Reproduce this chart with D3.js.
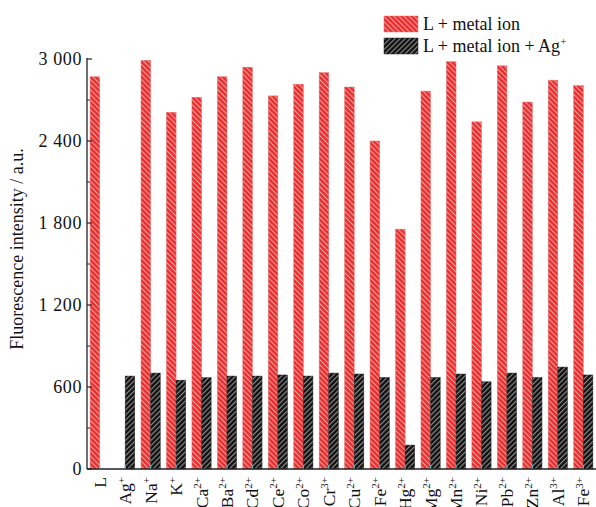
<!DOCTYPE html>
<html><head><meta charset="utf-8">
<script src="https://cdn.jsdelivr.net/npm/d3@7"></script>
<style>body{margin:0;background:#fff}svg{display:block}</style>
</head><body>
<svg id="c" width="596" height="507"></svg>
<script>
const categories = ["L","Ag","Na","K","Ca","Ba","Cd","Ce","Co","Cr","Cu","Fe","Hg","Mg","Mn","Ni","Pb","Zn","Al","Fe"];
const charges = ["","+","+","+","2+","2+","2+","2+","2+","3+","2+","2+","2+","2+","2+","2+","2+","2+","3+","3+"];
const metalIon = [2870,0,2990,2610,2720,2870,2940,2730,2815,2900,2795,2400,1755,2765,2980,2540,2950,2685,2845,2805];
const metalIonAg = [0,680,702,650,668,680,680,688,680,702,695,670,175,670,695,638,702,670,746,688];
const yTicks = [0,600,1200,1800,2400,3000];
const yMinor = [300,900,1500,2100,2700];
const seriesNames = ["L + metal ion","L + metal ion + Ag"];

const svg = d3.select("#c");
const font = "'Liberation Serif','Times New Roman',serif";
const x0 = 87, x1 = 596, yTop = 59, yBot = 469;
const x = d3.scaleBand().domain(d3.range(categories.length)).range([x0, x1]);
const y = d3.scaleLinear().domain([0,3000]).range([yBot, yTop]);
const bw = 9.6;

const defs = svg.append("defs");
function pat(id, bg, fg, dir){
  const p = defs.append("pattern").attr("id",id).attr("patternUnits","userSpaceOnUse")
    .attr("width",3.6).attr("height",3.6)
    .attr("patternTransform","rotate("+(dir>0?45:-45)+")");
  p.append("rect").attr("width",3.6).attr("height",3.6).attr("fill",bg);
  p.append("rect").attr("x",0).attr("width",1.1).attr("height",3.6).attr("fill",fg);
}
pat("pr","#ec2b2b","#f3a0a0",-1);
pat("pb","#111111","#8f8f8f",1);

// bars
svg.append("g").selectAll("rect").data(metalIon).join("rect")
  .attr("display",d=>d>0?null:"none")
  .attr("x",(d,i)=>x(i)+x.bandwidth()/2-bw)
  .attr("y",d=>y(d)).attr("width",bw).attr("height",d=>yBot-y(d))
  .attr("fill","url(#pr)").attr("stroke","#e07070").attr("stroke-width",0.5);
svg.append("g").selectAll("rect").data(metalIonAg).join("rect")
  .attr("display",d=>d>0?null:"none")
  .attr("x",(d,i)=>x(i)+x.bandwidth()/2)
  .attr("y",d=>y(d)).attr("width",bw).attr("height",d=>yBot-y(d))
  .attr("fill","url(#pb)").attr("stroke","#222").attr("stroke-width",0.5);

// y axis
const gy = svg.append("g");
gy.append("line").attr("x1",x0).attr("x2",x0).attr("y1",yTop-1).attr("y2",yBot).attr("stroke","#222").attr("stroke-width",1.3);
gy.selectAll(".mj").data(yTicks).join("line")
  .attr("x1",x0).attr("x2",x0+5).attr("y1",d=>y(d)).attr("y2",d=>y(d)).attr("stroke","#222").attr("stroke-width",1.2);
gy.selectAll(".mn").data(yMinor).join("line").attr("class","mn")
  .attr("x1",x0).attr("x2",x0+3).attr("y1",d=>y(d)).attr("y2",d=>y(d)).attr("stroke","#222").attr("stroke-width",1);
gy.selectAll("text").data(yTicks).join("text")
  .attr("x",x0-5).attr("y",d=>y(d)).attr("dy","0.35em").attr("text-anchor","end")
  .attr("font-family",font).attr("font-size",18).attr("letter-spacing",0.6).attr("fill","#111")
  .text(d=>d3.format(",")(d).replace(","," "));
svg.append("text").attr("transform","translate(23,249) rotate(-90)").attr("text-anchor","middle")
  .attr("font-family",font).attr("font-size",18).attr("fill","#111")
  .text("Fluorescence intensity / a.u.");

// x axis
svg.append("line").attr("x1",x0).attr("x2",x1).attr("y1",yBot).attr("y2",yBot).attr("stroke","#222").attr("stroke-width",1.3);
svg.append("g").selectAll("line").data(categories).join("line")
  .attr("x1",(d,i)=>x(i)+x.bandwidth()/2).attr("x2",(d,i)=>x(i)+x.bandwidth()/2)
  .attr("y1",yBot-0.5).attr("y2",yBot-4).attr("stroke","#4fc3cf").attr("stroke-width",1.2);
const xl = svg.append("g").selectAll("text").data(categories).join("text")
  .attr("transform",(d,i)=>"translate("+(x(i)+x.bandwidth()/2+6)+","+(yBot+8)+") rotate(-90)")
  .attr("text-anchor","end").attr("font-family",font).attr("font-size",17.5).attr("fill","#111");
xl.append("tspan").text(d=>d);
xl.append("tspan").attr("dy",-6.5).attr("font-size",11).text((d,i)=>charges[i]);

// legend
const lg = svg.append("g");
[["url(#pr)","#e07070",24],["url(#pb)","#222",46]].forEach((s,k)=>{
  lg.append("rect").attr("x",384).attr("y",s[2]-8).attr("width",34).attr("height",16)
    .attr("fill",s[0]).attr("stroke",s[1]).attr("stroke-width",0.5);
  const t = lg.append("text").attr("x",423).attr("y",s[2]+6).attr("font-family",font)
    .attr("font-size",18).attr("fill","#111");
  t.append("tspan").text(seriesNames[k]);
  if(k===1) t.append("tspan").attr("dy",-7).attr("font-size",11).text("+");
});
</script>
</body></html>
